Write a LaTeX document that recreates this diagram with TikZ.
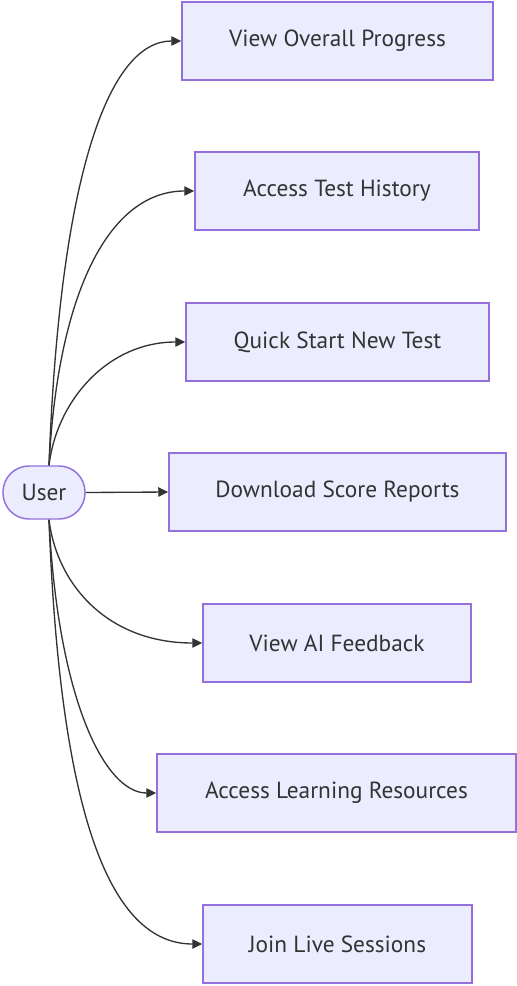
\documentclass[tikz,border=0pt]{standalone}
\usepackage{fontspec}
\setmainfont{PT Sans}
\usetikzlibrary{arrows.meta}
\definecolor{boxfill}{HTML}{ECECFF}
\definecolor{boxline}{HTML}{9370DB}
\definecolor{txt}{HTML}{333333}
\definecolor{edge}{HTML}{333333}
\begin{document}
\begin{tikzpicture}[x=0.75pt,y=-0.75pt,
  actbox/.style={draw=boxline,fill=boxfill,line width=1.1pt,minimum height=58.5pt,inner sep=0pt,text=txt,font=\fontsize{17.5pt}{20pt}\selectfont},
  usernode/.style={draw=boxline,fill=boxfill,line width=1.1pt,minimum width=61.5pt,minimum height=39.75pt,rounded corners=19.5pt,inner sep=0pt,text=txt,font=\fontsize{17.5pt}{20pt}\selectfont},
  link/.style={draw=edge,line width=1pt,-{Triangle[length=7.5pt,width=7pt]}}]
\useasboundingbox (0,0) rectangle (517,986);
\node[usernode] (user) at (44,492.5) {User};
\node[actbox,minimum width=233.25pt] (b1) at (337.5,41) {View Overall Progress};
\node[actbox,minimum width=213pt] (b2) at (337,191) {Access Test History};
\node[actbox,minimum width=227.25pt] (b3) at (337.5,342) {Quick Start New Test};
\node[actbox,minimum width=252.75pt] (b4) at (337.5,492) {Download Score Reports};
\node[actbox,minimum width=201pt] (b5) at (337,643) {View AI Feedback};
\node[actbox,minimum width=269.25pt] (b6) at (336.5,793) {Access Learning Resources};
\node[actbox,minimum width=201.75pt] (b7) at (337.5,944) {Join Live Sessions};
\draw[link] ([xshift=3.75pt]user.north) .. controls (60,170) and (110,41) .. (b1.west);
\draw[link] ([xshift=3.75pt]user.north) .. controls (58,290) and (110,191) .. (b2.west);
\draw[link] ([xshift=3.75pt]user.north) .. controls (57,400) and (108,342) .. (b3.west);
\draw[link] (user.east) -- (b4.west);
\draw[link] ([xshift=3.75pt]user.south) .. controls (57,585) and (108,643) .. (b5.west);
\draw[link] ([xshift=3.75pt]user.south) .. controls (58,700) and (105,793) .. (b6.west);
\draw[link] ([xshift=3.75pt]user.south) .. controls (60,815) and (110,944) .. (b7.west);
\end{tikzpicture}
\end{document}
